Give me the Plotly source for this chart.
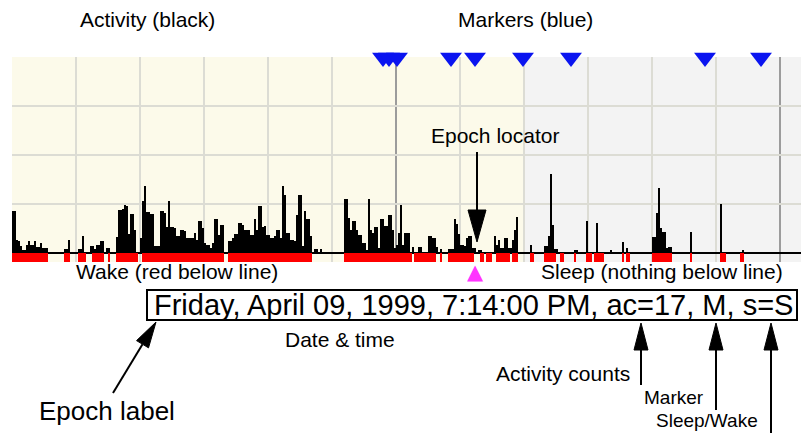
import plotly.graph_objects as go

# ---------------- data ----------------
# activity counts per epoch (one bar per epoch)
activity = [
    43, 43, 13, 12, 7, 3, 3, 8, 12, 8, 8, 12, 6, 6, 10, 5, 5, 5,
    0, 0, 0, 0, 0, 0, 0, 0,
    4, 4, 13,
    0, 0, 0, 0,
    4, 4, 17, 0,
    0, 0,
    7, 7, 4, 8, 8, 12, 12, 0, 5, 5,
    0, 0, 0,
    16, 44, 44, 45, 49, 48, 19, 40, 40, 23,
    0, 0,
    15, 53, 68, 42, 42, 40, 40, 7, 7, 7,
    43, 43, 41, 26, 53, 26, 26, 25, 17, 17,
    23, 23, 22, 15, 15, 15, 15, 20, 13, 33,
    33, 25, 10, 8, 8, 5, 10, 35, 35, 18,
    28, 28, 0, 0, 12, 12, 15, 19, 19, 31,
    31, 28, 23, 23, 23, 18, 18, 35, 23, 48,
    48, 26, 27, 18, 18, 15, 15, 17, 23, 23,
    15, 68, 59, 20, 20, 13, 13, 12, 39, 59,
    59, 7, 43, 35, 35, 17, 0, 4, 4, 0,
    4, 0, 0, 0, 0, 0, 0, 0, 0, 0, 0, 0,
    55, 55, 36, 23, 33, 33, 23, 18, 18, 10,
    10, 3, 55, 23, 20, 26, 26, 5, 35, 35,
    27, 27, 39, 39, 23, 5, 8, 20, 49, 8,
    20, 20, 20, 0, 6, 0, 0, 6, 6, 0,
    0, 0, 17, 17, 15, 15, 6, 0, 4, 0,
    0, 0, 4, 4, 4, 35, 30, 19, 8, 8,
    7, 15, 17, 17, 5, 5, 0, 3, 3, 0,
    0, 0, 0, 0, 0,
    17, 8, 13, 5, 5, 15, 15, 5, 5, 13,
    23, 37,
    0, 0, 0, 0, 0, 0,
    8,
    0, 0, 0, 0, 0, 0,
    7, 7, 17, 81, 28, 4, 4,
    0, 0, 0, 0, 0, 0, 0, 0,
    3, 3,
    0, 0, 0, 0,
    33,
    0, 0, 0, 0,
    31,
    0, 0, 0, 0, 0, 0,
    3,
    0, 0, 0, 0, 0,
    11, 0, 5,
    0, 0, 0, 0, 0, 0, 0, 0, 0, 0, 0, 0,
    16, 16, 41, 66, 25, 21, 21, 5, 6, 6,
    0, 0, 0, 0, 0, 0, 0, 0, 0,
    21,
    0, 0, 0, 0, 0, 0, 0, 0, 0, 0, 0, 0, 0, 0,
    50,
    0, 0, 0, 0, 0, 0, 0, 0, 0, 0,
    3,
    0, 0, 0, 0, 0, 0, 0, 0, 0, 0, 0, 0, 0, 0, 0, 0, 0, 0,
]

# wake periods (first epoch, last epoch) -> red below the line
wake_runs = [
    (0, 17), (26, 28), (33, 36), (40, 45), (48, 48), (52, 62), (65, 105),
    (108, 149), (166, 199), (201, 211), (214, 214), (218, 230), (234, 235),
    (237, 239), (242, 248), (250, 252), (259, 260), (266, 271), (274, 275),
    (281, 281), (287, 289), (291, 295), (305, 305), (307, 308), (320, 329),
    (339, 339), (354, 356), (364, 365),
]

marker_epochs = [185, 188, 192, 219, 231, 255, 279, 346, 374]
locator_epoch = 231
lights_off_epoch = 256
axis_end = 394.5

epoch_text = "Friday, April 09, 1999, 7:14:00 PM, ac=17, M, s=S"

# ---------------- derived ----------------
n = len(activity)
xs = [i + 0.5 for i in range(n)]
wake_idx = [i for a, b in wake_runs for i in range(a, b + 1)]

W, H = 801, 433
L, R, T, B = 12, 0, 57, 171
PW, PH = W - L - R, H - T - B


def px(x):
    return (x - L) / PW


def py(y):
    return (H - B - y) / PH


FONT = "Liberation Sans"

fig = go.Figure()
fig.add_trace(go.Bar(x=xs, y=activity, width=1, marker=dict(color="black", line=dict(width=0)),
                     hoverinfo="skip"))
fig.add_trace(go.Bar(x=[i + 0.5 for i in wake_idx], y=[-9] * len(wake_idx), width=1,
                     marker=dict(color="#ff0000", line=dict(width=0)), hoverinfo="skip"))
fig.add_trace(go.Scatter(x=[m + 0.5 for m in marker_epochs], y=[200] * len(marker_epochs),
                         mode="markers", cliponaxis=False,
                         marker=dict(symbol="triangle-down", size=19, color="#0a14f0",
                                     line=dict(width=0)), hoverinfo="skip"))

shapes = [
    dict(type="rect", xref="x", yref="paper", x0=lights_off_epoch, x1=axis_end, y0=0, y1=1,
         fillcolor="#f3f3f3", line=dict(width=0), layer="below"),
]


def arrow(x0, y0, x1, y1, head_len, half):
    dx, dy = x1 - x0, y1 - y0
    ln = (dx * dx + dy * dy) ** 0.5
    ux, uy = dx / ln, dy / ln
    bx, by = x1 - ux * head_len, y1 - uy * head_len
    nx, ny = -uy, ux
    out = [dict(type="line", xref="paper", yref="paper", x0=px(x0), y0=py(y0),
                x1=px(bx), y1=py(by), line=dict(color="black", width=2))]
    path = "M{},{} L{},{} L{},{} Z".format(
        px(x1), py(y1), px(bx + nx * half), py(by + ny * half),
        px(bx - nx * half), py(by - ny * half))
    out.append(dict(type="path", xref="paper", yref="paper", path=path,
                    fillcolor="black", line=dict(color="black", width=1)))
    return out


shapes += arrow(477, 152, 477, 242, 32, 9)
shapes += arrow(113, 393, 156, 322, 26, 7)
shapes += arrow(641, 385, 641, 323, 27, 7)
shapes += arrow(716, 410, 716, 323, 27, 7)
shapes += arrow(771, 433, 771, 323, 27, 7)
shapes.append(dict(type="rect", xref="paper", yref="paper", x0=px(147), x1=px(797),
                   y0=py(320), y1=py(290), line=dict(color="black", width=2),
                   fillcolor="rgba(0,0,0,0)"))


def label(text, x, y, size=21, **kw):
    return dict(text=text, x=px(x), y=py(y), xref="paper", yref="paper", showarrow=False,
                xanchor="center", yanchor="middle",
                font=dict(family=FONT, size=size, color="black"), **kw)


annotations = [
    label("Activity (black)", 147.5, 19),
    label("Markers (blue)", 525, 19),
    label("Epoch locator", 494.5, 135),
    label("Wake (red below line)", 176.5, 271),
    label("Sleep (nothing below line)", 662, 271),
    label(epoch_text, 473.5, 305, size=29),
    label("Date & time", 340, 339),
    label("Activity counts", 562.5, 373),
    label("Marker", 674, 397, size=19),
    label("Sleep/Wake", 707, 420, size=19),
    label("Epoch label", 106.5, 411, size=26),
    # epoch locator (pink) placed at the locator epoch on the x axis
    dict(text="\u25b2", x=locator_epoch + 0.5, xref="x", y=py(272), yref="paper",
         showarrow=False, xanchor="center", yanchor="middle",
         font=dict(family="DejaVu Sans", size=21, color="#ff33ff")),
]

fig.update_layout(
    width=W, height=H, margin=dict(l=L, r=R, t=T, b=B, pad=0),
    paper_bgcolor="white", plot_bgcolor="#fcfaea",
    barmode="overlay", bargap=0, showlegend=False,
    shapes=shapes, annotations=annotations,
    xaxis=dict(range=[0, axis_end], showticklabels=False, ticks="", zeroline=False,
               showgrid=True, tick0=0, dtick=192, gridcolor="#9c9c9c", gridwidth=2,
               minor=dict(tick0=0, dtick=32, showgrid=True, gridcolor="#dcdcd4", gridwidth=2),
               showline=False, fixedrange=True),
    yaxis=dict(range=[-9.4, 200.6], showticklabels=False, ticks="", showgrid=True,
               tick0=0, dtick=50, gridcolor="#dcdcd4", gridwidth=2,
               zeroline=True, zerolinecolor="black", zerolinewidth=2,
               showline=False, fixedrange=True),
)

fig.write_html("out.html", config={"displayModeBar": False, "staticPlot": True},
               post_script="document.body.style.margin='0';document.body.style.overflow='hidden';")
